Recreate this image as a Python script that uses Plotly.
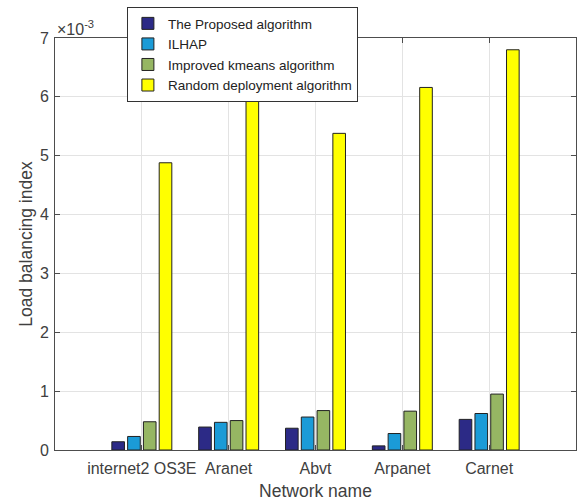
import plotly.graph_objects as go

# Network topologies on the x axis
networks = ["internet2 OS3E", "Aranet", "Abvt", "Arpanet", "Carnet"]
positions = [1, 2, 3, 4, 5]

# Load balancing index per algorithm (in units of 1e-3)
proposed = [0.14, 0.39, 0.37, 0.07, 0.52]
ilhap = [0.23, 0.47, 0.56, 0.28, 0.62]
improved_kmeans = [0.48, 0.50, 0.67, 0.66, 0.95]
random_deploy = [4.88, 6.02, 5.38, 6.16, 6.80]

series_names = [
    "The Proposed algorithm",
    "ILHAP",
    "Improved kmeans algorithm",
    "Random deployment algorithm",
]
series_values = [proposed, ilhap, improved_kmeans, random_deploy]
series_colors = ["#2c2a86", "#1b9bd7", "#96b663", "#ffff00"]

axis_color = "#4d4d4d"
text_color = "#404040"
font_family = "Liberation Sans, Arial, Helvetica, sans-serif"

fig = go.Figure()
for name, vals, col in zip(series_names, series_values, series_colors):
    fig.add_trace(go.Bar(
        x=positions,
        y=vals,
        name=name,
        marker=dict(color=col, line=dict(color="#222222", width=1)),
    ))

fig.update_layout(
    width=581,
    height=501,
    margin=dict(l=55, r=5, t=38, b=51),
    paper_bgcolor="white",
    plot_bgcolor="white",
    barmode="group",
    bargap=0.273,
    bargroupgap=0.2,
    font=dict(family=font_family, size=16, color=text_color),
    showlegend=True,
    legend=dict(
        x=0.138, y=1.075, xanchor="left", yanchor="top",
        bgcolor="white", bordercolor="#333333", borderwidth=1,
        font=dict(size=13.5, color="#222222"),
        tracegroupgap=0,
        itemwidth=30,
    ),
    xaxis=dict(
        range=[0, 6],
        tickmode="array",
        tickvals=positions,
        ticktext=networks,
        ticks="inside",
        ticklen=5,
        tickcolor=axis_color,
        ticklabelstandoff=4,
        showline=True,
        linecolor=axis_color,
        linewidth=1,
        mirror="ticks",
        showgrid=True,
        gridcolor="#e3e3e3",
        zeroline=False,
        title=dict(text="Network name", font=dict(size=17.5, color=text_color), standoff=8),
        tickfont=dict(size=16, color=text_color),
    ),
    yaxis=dict(
        range=[0, 7],
        tickmode="array",
        tickvals=[0, 1, 2, 3, 4, 5, 6, 7],
        ticks="inside",
        ticklen=5,
        tickcolor=axis_color,
        ticklabelstandoff=2,
        showline=True,
        linecolor=axis_color,
        linewidth=1,
        mirror="ticks",
        showgrid=True,
        gridcolor="#e3e3e3",
        zeroline=False,
        title=dict(text="Load balancing index", font=dict(size=17.5, color=text_color), standoff=2),
        tickfont=dict(size=16, color=text_color),
    ),
)

# Axis exponent marker above the y axis
fig.add_annotation(
    x=0, y=1.0, xref="paper", yref="paper",
    xanchor="left", yanchor="bottom", yshift=-2,
    text="×10<sup>-3</sup>", showarrow=False,
    font=dict(size=16, color=text_color),
)

fig.write_html("out.html")
